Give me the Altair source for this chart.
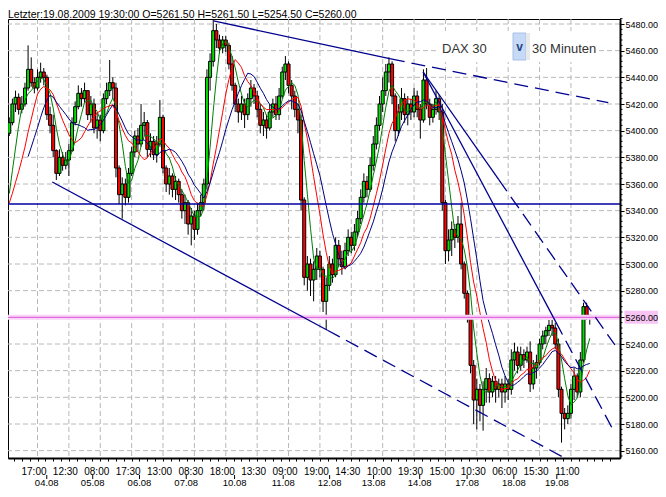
import json
import altair as alt
import pandas as pd

# ---------------- data ----------------
TIME_LABELS = ['21:30', '17:00', '12:30', '08:00', '17:30', '13:00', '08:30', '18:00', '13:30',
               '09:00', '19:00', '14:30', '10:00', '19:30', '15:00', '10:30', '06:00', '15:30', '11:00']
TIME_POS = [10 * k for k in range(len(TIME_LABELS))]
DATE_LABELS = ['04.08', '05.08', '06.08', '07.08', '10.08', '11.08', '12.08', '13.08', '14.08',
               '17.08', '18.08', '19.08']
DATE_POS = [12.95, 27.6, 42.5, 57.4, 72.8, 88.3, 103.1, 117.1, 131.8, 146.9, 161.8, 175.5]
PRICE_GRID = list(range(5160, 5481, 20))

# closes of the bars just before the visible window (only feed the averages)
pre_close = [5350, 5346, 5352, 5344, 5340, 5348, 5342, 5336, 5330, 5338, 5334, 5340, 5332, 5352]
first_open = 5398
close = [
    5406, 5420, 5425, 5416, 5420, 5432, 5446, 5436, 5432, 5440,
    5444, 5440, 5412, 5404, 5385, 5368, 5380, 5374, 5378, 5385,
    5406, 5418, 5428, 5424, 5430, 5412, 5420, 5402, 5408, 5400,
    5424, 5430, 5436, 5432, 5372, 5352, 5360, 5350, 5368, 5384,
    5396, 5390, 5404, 5406, 5386, 5392, 5382, 5390, 5410, 5372,
    5360, 5366, 5356, 5362, 5352, 5340, 5346, 5330, 5336, 5326,
    5340, 5346, 5360, 5440, 5452, 5475, 5468, 5462, 5468, 5464,
    5450, 5434, 5420, 5414, 5420, 5412, 5424, 5432, 5426, 5416,
    5404, 5408, 5402, 5414, 5420, 5412, 5426, 5444, 5450, 5434,
    5426, 5416, 5408, 5348, 5290, 5300, 5288, 5296, 5306, 5296,
    5272, 5284, 5300, 5292, 5314, 5304, 5298, 5310, 5320, 5314,
    5324, 5334, 5350, 5362, 5356, 5374, 5390, 5404, 5420, 5430,
    5444, 5450, 5426, 5400, 5414, 5424, 5412, 5420, 5414, 5426,
    5416, 5408, 5438, 5420, 5410, 5416, 5424, 5414, 5346, 5310,
    5318, 5326, 5320, 5330, 5300, 5278, 5260, 5224, 5198, 5206,
    5194, 5206, 5214, 5204, 5212, 5206, 5210, 5204, 5210, 5206,
    5228, 5234, 5224, 5232, 5228, 5234, 5210, 5222, 5226, 5240,
    5246, 5250, 5254, 5252, 5240, 5206, 5188, 5184, 5188, 5206,
    5216, 5204, 5228, 5268, 5261.5, 5260,
]
high = [
    5410, 5424, 5430, 5428, 5426, 5436, 5464, 5455, 5440, 5446,
    5451, 5447, 5442, 5418, 5412, 5386, 5386, 5384, 5384, 5390,
    5410, 5422, 5434, 5432, 5436, 5430, 5426, 5424, 5414, 5412,
    5428, 5436, 5453, 5440, 5436, 5374, 5365, 5364, 5372, 5388,
    5400, 5402, 5420, 5414, 5408, 5398, 5396, 5396, 5423, 5412,
    5374, 5372, 5368, 5366, 5364, 5356, 5352, 5348, 5342, 5340,
    5346, 5352, 5364, 5446, 5458, 5483, 5480, 5472, 5471, 5471,
    5466, 5456, 5436, 5424, 5426, 5424, 5428, 5438, 5435, 5430,
    5420, 5414, 5412, 5420, 5424, 5426, 5432, 5448, 5456, 5452,
    5438, 5430, 5420, 5412, 5350, 5306, 5304, 5302, 5312, 5310,
    5298, 5290, 5306, 5304, 5320, 5318, 5310, 5316, 5326, 5324,
    5330, 5340, 5356, 5368, 5366, 5380, 5396, 5410, 5426, 5440,
    5450, 5455, 5452, 5428, 5420, 5432, 5428, 5426, 5424, 5432,
    5430, 5420, 5446, 5447, 5424, 5420, 5430, 5427, 5420, 5348,
    5326, 5332, 5330, 5336, 5346, 5302, 5280, 5262, 5228, 5214,
    5210, 5212, 5222, 5218, 5216, 5216, 5214, 5214, 5216, 5214,
    5236, 5241, 5238, 5238, 5236, 5238, 5242, 5228, 5232, 5244,
    5250, 5253, 5258, 5258, 5256, 5244, 5208, 5192, 5194, 5210,
    5222, 5218, 5234, 5271, 5271, 5261.5,
]
low = [
    5396, 5404, 5414, 5412, 5413, 5418, 5430, 5433, 5428, 5430,
    5436, 5434, 5408, 5398, 5380, 5363, 5366, 5370, 5371, 5366,
    5384, 5404, 5416, 5418, 5421, 5408, 5406, 5398, 5394, 5392,
    5398, 5420, 5426, 5424, 5365, 5345, 5334, 5344, 5346, 5366,
    5380, 5384, 5388, 5396, 5380, 5380, 5378, 5376, 5388, 5368,
    5354, 5352, 5350, 5348, 5346, 5334, 5330, 5322, 5314, 5318,
    5322, 5336, 5340, 5356, 5430, 5448, 5462, 5458, 5458, 5459,
    5446, 5430, 5414, 5406, 5408, 5402, 5408, 5418, 5420, 5410,
    5398, 5396, 5394, 5400, 5410, 5408, 5408, 5424, 5438, 5428,
    5416, 5410, 5398, 5340, 5284, 5280, 5276, 5272, 5288, 5290,
    5264, 5251, 5280, 5286, 5290, 5298, 5292, 5296, 5306, 5308,
    5310, 5320, 5330, 5346, 5350, 5354, 5370, 5386, 5400, 5414,
    5426, 5436, 5420, 5392, 5396, 5408, 5406, 5404, 5408, 5410,
    5410, 5394, 5406, 5416, 5404, 5406, 5412, 5408, 5340, 5300,
    5302, 5306, 5312, 5316, 5296, 5274, 5256, 5218, 5180, 5176,
    5182, 5175, 5196, 5196, 5200, 5196, 5200, 5192, 5196, 5198,
    5202, 5220, 5218, 5220, 5222, 5226, 5204, 5206, 5214, 5224,
    5236, 5240, 5246, 5246, 5236, 5200, 5166, 5176, 5180, 5184,
    5198, 5200, 5200, 5226, 5258, 5254.5,
]

# moving-average periods (in bars) and first bar drawn
MA_SPECS = [('ma5', 5, '#008000', 1), ('ma10', 10, '#ff0000', 1), ('ma14', 14, '#000080', 7)]

H_BLUE = [5345]
H_PINK = [5260]

# trend lines: start (bar, price) -> end (bar, price)
trend_solid = {'x1': [66.1, 14.7, 132.9, 132.9], 'y1': [5482.3, 5361.5, 5444, 5444],
               'x2': [122.6, 102.4, 157.0, 175.2], 'y2': [5453.8, 5250.3, 5363.3, 5256.4]}
trend_dash = {'x1': [122.6, 102.4, 157.0, 175.2], 'y1': [5453.8, 5250.3, 5363.3, 5256.4],
              'x2': [191.9, 178.4, 194.0, 193.1], 'y2': [5421.0, 5154.0, 5239.3, 5177.0]}

TITLE = 'Letzter:19.08.2009 19:30:00 O=5261.50 H=5261.50 L=5254.50 C=5260.00'

# ---------------- frames ----------------
n = len(close)
idx = list(range(1, n + 1))
opens = [first_open] + close[:-1]
candles = pd.DataFrame({'i': idx, 'open': opens, 'close': close, 'high': high, 'low': low})
ma_df = pd.DataFrame({'i': list(range(1 - len(pre_close), 1)) + idx, 'close': pre_close + close})

W, H = 612, 439
FONT = 'Liberation Sans'
xs = alt.Scale(domain=[2.19, 194.04], nice=False, zero=False)
ys = alt.Scale(domain=[5154.5, 5483.75], nice=False, zero=False)
dummy = pd.DataFrame({'a': [0]})

label_expr = ("datum.value % 10 == 0 ? " + json.dumps(TIME_LABELS).replace('"', "'")
              + "[round(datum.value / 10)] : ''")

hgrid = alt.Chart(pd.DataFrame({'p': PRICE_GRID})).mark_rule(
    color='#b8b8b8', strokeDash=[5, 3], strokeWidth=1).encode(
    y=alt.Y('p:Q', scale=ys, axis=None))
vgrid = alt.Chart(pd.DataFrame({'g': TIME_POS[1:]})).mark_rule(
    color='#b8b8b8', strokeDash=[5, 3], strokeWidth=1).encode(
    x=alt.X('g:Q', scale=xs, axis=None))

widget_bg = alt.Chart(dummy).mark_rect(fill='white').encode(
    x=alt.value(429), x2=alt.value(588), y=alt.value(12), y2=alt.value(43))

wick = alt.Chart(candles).mark_rule(color='black', strokeWidth=1, clip=True).encode(
    x=alt.X('i:Q', scale=xs, title=None,
            axis=alt.Axis(values=[2.5 * k for k in range(1, 78)], labelExpr=label_expr,
                          tickSize=3, tickColor='black', domainColor='black', domainWidth=2,
                          labelPadding=5, labelOffset=-4, grid=False, labelOverlap=False,
                          labelFontSize=10, labelFlush=False, labelBaseline='top',
                          zindex=1)),
    y=alt.Y('low:Q', scale=ys, title=None,
            axis=alt.Axis(orient='right', values=PRICE_GRID, format='.2f', tickSize=4,
                          tickColor='black', domainColor='black', domainWidth=2,
                          labelPadding=1, grid=False, labelFontSize=9, zindex=1)),
    y2='high:Q')

body = alt.Chart(candles).mark_bar(size=3, stroke='black', strokeWidth=1, clip=True).encode(
    x=alt.X('i:Q', scale=xs, axis=None),
    y=alt.Y('open:Q', scale=ys, axis=None),
    y2='close:Q',
    fill=alt.condition('datum.close >= datum.open', alt.value('#00e000'), alt.value('#ff0000')))

ma_layers = []
for name, per, col, start in MA_SPECS:
    ma_layers.append(
        alt.Chart(ma_df).transform_window(
            **{name: 'mean(close)'}, frame=[-(per - 1), 0], sort=[{'field': 'i'}]
        ).transform_filter(f'datum.i >= {start}').mark_line(
            color=col, strokeWidth=1, clip=True).encode(
            x=alt.X('i:Q', scale=xs, axis=None), y=alt.Y(f'{name}:Q', scale=ys, axis=None)))

pink_band = alt.Chart(pd.DataFrame({'p': H_PINK})).mark_rule(
    color='#f9d4f6', strokeWidth=5).encode(y=alt.Y('p:Q', scale=ys, axis=None))
pink_line = alt.Chart(pd.DataFrame({'p': H_PINK})).mark_rule(
    color='#dd55dd', strokeWidth=1).encode(y=alt.Y('p:Q', scale=ys, axis=None))
blue_line = alt.Chart(pd.DataFrame({'p': H_BLUE})).mark_rule(
    color='#0000a0', strokeWidth=1.3).encode(y=alt.Y('p:Q', scale=ys, axis=None))

tr_s = alt.Chart(pd.DataFrame(trend_solid)).mark_rule(
    color='#00008f', strokeWidth=1.3, clip=True).encode(
    x=alt.X('x1:Q', scale=xs, axis=None), x2='x2:Q',
    y=alt.Y('y1:Q', scale=ys, axis=None), y2='y2:Q')
tr_d = alt.Chart(pd.DataFrame(trend_dash)).mark_rule(
    color='#00008f', strokeWidth=1.3, strokeDash=[14, 7], clip=True).encode(
    x=alt.X('x1:Q', scale=xs, axis=None), x2='x2:Q',
    y=alt.Y('y1:Q', scale=ys, axis=None), y2='y2:Q')

dax_txt = alt.Chart(dummy).mark_text(
    text='DAX 30', align='left', baseline='alphabetic', font=FONT, fontSize=13,
    color='#333333').encode(x=alt.value(434), y=alt.value(34))
dd_box = alt.Chart(dummy).mark_rect(fill='#c6d9f6', stroke='#a8c0e8', strokeWidth=1).encode(
    x=alt.value(505), x2=alt.value(518), y=alt.value(14), y2=alt.value(41))
dd_strip = alt.Chart(dummy).mark_rect(fill='#e9e9e9').encode(
    x=alt.value(518), x2=alt.value(522), y=alt.value(14), y2=alt.value(41))
dd_chev = alt.Chart(dummy).mark_text(
    text='v', align='center', baseline='middle', font=FONT, fontSize=12, fontWeight='bold',
    color='#24457f').encode(x=alt.value(511.5), y=alt.value(28))
min_txt = alt.Chart(dummy).mark_text(
    text='30 Minuten', align='left', baseline='alphabetic', font=FONT, fontSize=13,
    color='#333333').encode(x=alt.value(524), y=alt.value(34))

title = alt.Chart(dummy).mark_text(
    text=TITLE, align='left', baseline='alphabetic', font=FONT, fontSize=10.5,
    color='black').encode(x=alt.value(0), y=alt.value(-1.5))

date_df = pd.DataFrame({'d': DATE_POS, 't': DATE_LABELS})
date_txt = alt.Chart(date_df).mark_text(
    align='center', baseline='alphabetic', font=FONT, fontSize=9.5, color='black').encode(
    x=alt.X('d:Q', scale=xs, axis=None), y=alt.value(H + 28), text='t:N')
date_tick = alt.Chart(date_df).mark_rule(color='black', strokeWidth=1).encode(
    x=alt.X('d:Q', scale=xs, axis=None), y=alt.value(H + 17), y2=alt.value(H + 21))

minor_df = pd.DataFrame({'p': [p for p in range(5156, 5486, 4) if p % 20 != 0]})
minor_ticks = alt.Chart(minor_df).mark_rule(color='black', strokeWidth=1).encode(
    y=alt.Y('p:Q', scale=ys, axis=None), x=alt.value(W), x2=alt.value(W + 2.5))

pink_box = alt.Chart(pd.DataFrame({'p': H_PINK})).mark_rect(
    fill='#f7c4f3', width=35, height=13).encode(
    y=alt.Y('p:Q', scale=ys, axis=None), x=alt.value(W + 22))

chart = alt.layer(
    hgrid, vgrid, widget_bg, wick, body, *ma_layers, pink_band, pink_line, blue_line,
    tr_s, tr_d, dax_txt, dd_box, dd_strip, dd_chev, min_txt, title, date_txt, date_tick,
    minor_ticks, pink_box,
).resolve_axis(x='independent', y='independent').properties(
    width=W, height=H,
    padding={'left': 0, 'top': 11, 'right': 38, 'bottom': 31},
    autosize=alt.AutoSizeParams(type='none'),
    background='white',
).configure_view(stroke='black', strokeWidth=1).configure_axis(
    labelFont=FONT, labelColor='black')

chart.save('out.html', embed_options={'renderer': 'svg', 'actions': False})
